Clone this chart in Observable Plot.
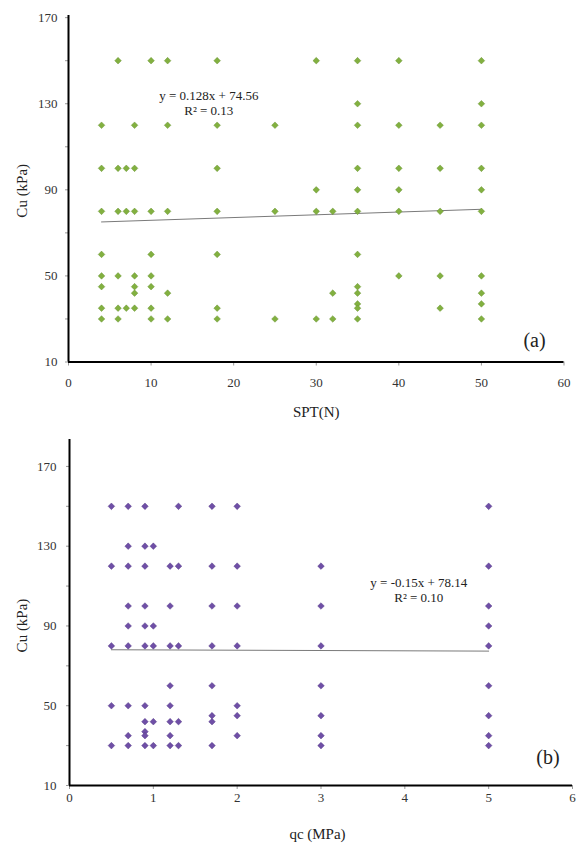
<!DOCTYPE html>
<html>
<head>
<meta charset="utf-8">
<script src="https://cdn.jsdelivr.net/npm/d3@7"></script>
<script src="https://cdn.jsdelivr.net/npm/@observablehq/plot@0.6"></script>
<style>
  html, body { margin: 0; padding: 0; background: #fff; }
  #chart svg { display: block; }
  #chart svg, #chart svg text { font-family: "Liberation Serif", "Times New Roman", serif; }
</style>
</head>
<body>
<div id="chart"></div>
<script>
// ---- Chart (a): SPT(N) vs Cu (kPa) ----
const sptN = [
  6,10,12,18,30,35,40,50,
  35,50,
  4,8,12,18,25,35,40,45,50,
  4,6,7,8,18,35,40,45,50,
  30,35,40,50,
  4,6,7,8,10,12,18,25,30,32,35,40,45,50,
  4,10,18,35,
  4,6,8,10,40,45,50,
  4,8,10,35,
  8,12,32,35,50,
  35,50,
  4,6,7,8,10,18,35,45,
  4,6,10,12,18,25,30,32,35,50
];
const cuA = [
  150,150,150,150,150,150,150,150,
  130,130,
  120,120,120,120,120,120,120,120,120,
  100,100,100,100,100,100,100,100,100,
  90,90,90,90,
  80,80,80,80,80,80,80,80,80,80,80,80,80,80,
  60,60,60,60,
  50,50,50,50,50,50,50,
  45,45,45,45,
  42,42,42,42,42,
  37,37,
  35,35,35,35,35,35,35,35,
  30,30,30,30,30,30,30,30,30,30
];
const fitA = [0.128, 74.56, 0.13];   // slope, intercept, R²
const xTicksA = [0, 10, 20, 30, 40, 50, 60];

// ---- Chart (b): qc (MPa) vs Cu (kPa) ----
const qcMPa = [
  0.5,0.7,0.9,1.3,1.7,2,5,
  0.7,0.9,1.0,
  0.5,0.7,0.9,1.2,1.3,1.7,2,3,5,
  0.7,0.9,1.2,1.7,2,3,5,
  0.7,0.9,1.0,5,
  0.5,0.7,0.9,1.0,1.2,1.3,1.7,2,3,5,
  1.2,1.7,3,5,
  0.5,0.7,0.9,1.2,2,
  1.7,2,3,5,
  0.9,1.0,1.2,1.3,1.7,
  0.9,
  0.7,0.9,1.2,2,3,5,
  0.5,0.7,0.9,1.0,1.2,1.3,1.7,3,5
];
const cuB = [
  150,150,150,150,150,150,150,
  130,130,130,
  120,120,120,120,120,120,120,120,120,
  100,100,100,100,100,100,100,
  90,90,90,90,
  80,80,80,80,80,80,80,80,80,80,
  60,60,60,60,
  50,50,50,50,50,
  45,45,45,45,
  42,42,42,42,42,
  37,
  35,35,35,35,35,35,
  30,30,30,30,30,30,30,30,30
];
const fitB = [-0.15, 78.14, 0.10];
const xTicksB = [0, 1, 2, 3, 4, 5, 6];

// shared y-axis ticks / labels
const yTicks = [10, 30, 50, 70, 90, 110, 130, 150, 170];
const yLabels = [10, 50, 90, 130, 170];

const FONT = "Liberation Serif, Times New Roman, serif";

function fitLine(xs, fit) {
  const [x0, x1] = d3.extent(xs);
  return [x0, x1].map(x => ({x, y: fit[0] * x + fit[1]}));
}
function eqText(fit) {
  return `y = ${fit[0]}x + ${fit[1]}`;
}
function r2Text(fit) {
  return `R² = ${fit[2].toFixed(2)}`;
}

function makeChart(cfg) {
  const data = cfg.xs.map((x, i) => ({x, y: cfg.ys[i]}));
  const txt = {textAnchor: "middle", lineAnchor: "middle", fontFamily: FONT, fill: "#222"};
  return Plot.plot({
    width: 581,
    height: cfg.height,
    marginLeft: cfg.ml, marginRight: cfg.mr, marginTop: cfg.mt, marginBottom: cfg.mb,
    style: {fontFamily: FONT, fontSize: "13px", color: "#333", background: "#fff"},
    x: {domain: cfg.xDomain},
    y: {domain: cfg.yDomain},
    marks: [
      Plot.axisY({ticks: yTicks, tickSize: 3, tickPadding: cfg.yPad, stroke: "#999",
        tickFormat: d => yLabels.includes(d) ? String(d) : "", label: null, fontSize: 13}),
      Plot.axisX({ticks: cfg.xTicks, tickSize: 4, tickPadding: cfg.xPad, stroke: "#999",
        tickFormat: d => String(d), label: null, fontSize: 13}),
      Plot.line(fitLine(cfg.xs, cfg.fit), {x: "x", y: "y", stroke: "#7a7a7a", strokeWidth: 1}),
      Plot.dot(data, {x: "x", y: "y", symbol: "diamond2", r: 3, fill: cfg.color,
        stroke: cfg.edge, strokeWidth: 0.4}),
      Plot.ruleX([cfg.xDomain[0]], {stroke: "#000", strokeWidth: 2}),
      Plot.ruleY([cfg.yDomain[0]], {stroke: "#000", strokeWidth: 2}),
      Plot.text(["Cu (kPa)"], {...txt, frameAnchor: "left", dx: cfg.yTitleDx, dy: cfg.yTitleDy,
        rotate: -90, fontSize: 15}),
      Plot.text([cfg.xTitle], {...txt, frameAnchor: "bottom", dx: cfg.xTitleDx, dy: cfg.xTitleDy,
        fontSize: 15}),
      Plot.text([cfg.tag], {...txt, frameAnchor: "bottom-right", dx: cfg.tagDx, dy: cfg.tagDy,
        fontSize: 20}),
      Plot.text([eqText(cfg.fit)], {...txt, frameAnchor: "top-left", dx: cfg.eqDx, dy: cfg.eqDy,
        fontSize: 13}),
      Plot.text([r2Text(cfg.fit)], {...txt, frameAnchor: "top-left", dx: cfg.eqDx, dy: cfg.eqDy + 15,
        fontSize: 13})
    ]
  });
}

const chartA = makeChart({
  xs: sptN, ys: cuA, fit: fitA, xTicks: xTicksA,
  height: 420, ml: 68, mr: 17.5, mt: 15, mb: 58.5,
  xDomain: [0, 60], yDomain: [10, 171],
  yPad: 8, xPad: 11.5,
  color: "#82b040", edge: "#5f8a2c",
  xTitle: "SPT(N)", xTitleDx: 0, xTitleDy: 50.5,
  yTitleDx: -46, yTitleDy: 2,
  tag: "(a)", tagDx: -29.5, tagDy: -21.5,
  eqDx: 140.3, eqDy: 80
});

const chartB = makeChart({
  xs: qcMPa, ys: cuB, fit: fitB, xTicks: xTicksB,
  height: 426, ml: 69, mr: 9, mt: 19, mb: 61,
  xDomain: [0, 6], yDomain: [10, 183.5],
  yPad: 10, xPad: 3.5,
  color: "#6f4fa6", edge: "#4e3680",
  xTitle: "qc (MPa)", xTitleDx: -3.5, xTitleDy: 49,
  yTitleDx: -47, yTitleDy: 13,
  tag: "(b)", tagDx: -24.5, tagDy: -27.7,
  eqDx: 349.3, eqDy: 143.7
});

const root = document.getElementById("chart");
root.appendChild(chartA);
root.appendChild(chartB);
</script>
</body>
</html>
